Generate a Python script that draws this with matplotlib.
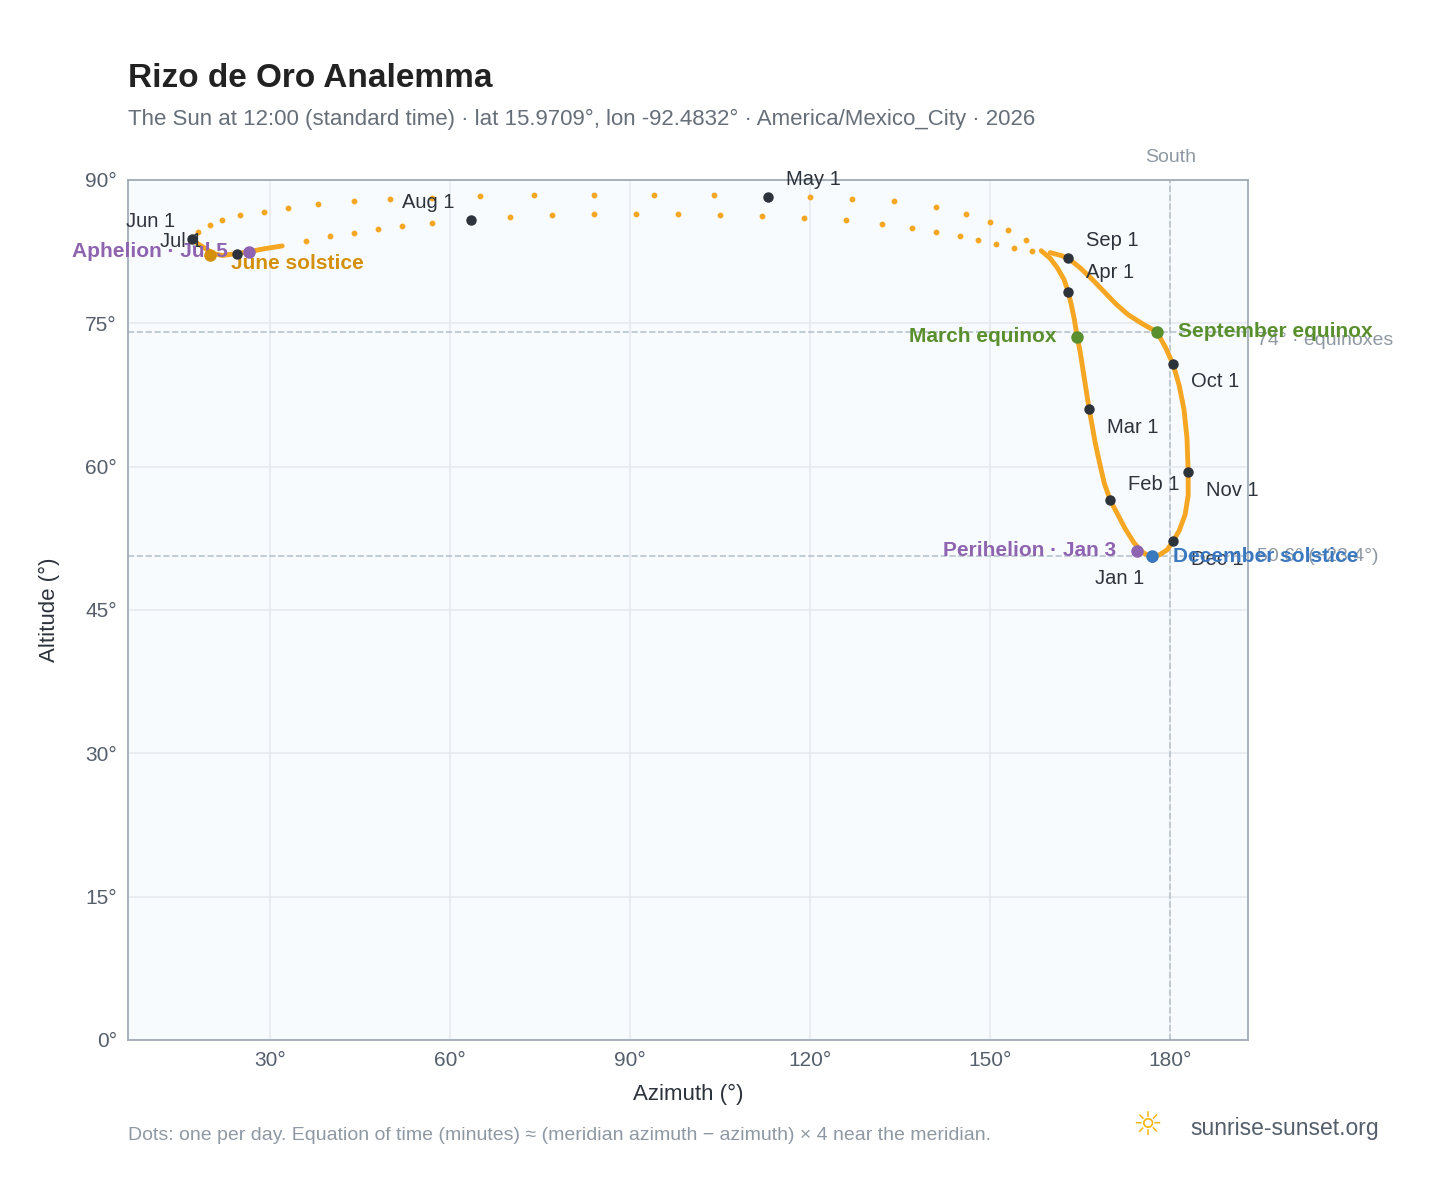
import matplotlib.pyplot as plt

plt.rcParams["font.family"] = ["Liberation Sans", "DejaVu Sans"]

# loop south of zenith, Jan 1 -> mid Apr (dense)
loop_a_az = [177, 175.5, 174, 172.5, 171, 170, 169, 168.2, 167.5, 167, 166.5, 166, 165.5, 165, 164.5, 164, 163.5, 163, 162.3, 161.2, 160, 158.5]
loop_a_alt = [50.5, 51, 52, 53.5, 55.3, 56.5, 58.3, 60.5, 62.5, 64.3, 66, 68, 70, 72, 73.6, 75.5, 77, 78.3, 79.6, 80.8, 81.8, 82.6]
# upper arc, Apr -> Jun (sparse dots)
top_az = [156, 153, 150, 146, 141, 134, 127, 120, 113, 104, 94, 84, 74, 65, 57, 50, 44, 38, 33, 29, 25, 22, 20, 18]
top_alt = [83.7, 84.8, 85.6, 86.4, 87.2, 87.8, 88.0, 88.2, 88.2, 88.4, 88.4, 88.4, 88.4, 88.3, 88.1, 88.0, 87.8, 87.5, 87.1, 86.7, 86.3, 85.8, 85.3, 84.6]
# June/July turn (dense)
june_az = [17, 18, 19.5, 20.5, 22, 24.5, 26.5, 29, 32]
june_alt = [83.8, 83.3, 82.7, 82.3, 82.1, 82.3, 82.5, 82.8, 83.1]
# lower arc, Jul -> Aug (sparse dots)
low_az = [36, 40, 44, 48, 52, 57, 63.5, 70, 77, 84, 91, 98, 105, 112, 119, 126, 132, 137, 141, 145, 148, 151, 154, 157]
low_alt = [83.6, 84.1, 84.5, 84.9, 85.2, 85.5, 85.8, 86.1, 86.3, 86.4, 86.4, 86.4, 86.3, 86.2, 86.0, 85.8, 85.4, 85.0, 84.6, 84.1, 83.7, 83.3, 82.9, 82.6]
# Sep -> Jan (dense)
loop_b_az = [160, 161.8, 163, 165, 167, 169, 171, 173, 175.5, 177.8, 179.2, 180.5, 181.5, 182.3, 182.8, 183, 183, 182.5, 181.5, 180.5, 179.5, 178.3, 177]
loop_b_alt = [82.4, 82.1, 81.8, 80.8, 79.6, 78.3, 77.0, 75.9, 74.9, 74.1, 72.5, 70.7, 68.5, 66, 63, 59.4, 57, 55, 53.3, 52.2, 51.3, 50.8, 50.5]

months = ["Jan 1", "Feb 1", "Mar 1", "Apr 1", "May 1", "Jun 1", "Jul 1", "Aug 1", "Sep 1", "Oct 1", "Nov 1", "Dec 1"]
month_az = [177, 170, 166.5, 163, 113, 17, 24.5, 63.5, 163, 180.5, 183, 180.5]
month_alt = [50.5, 56.5, 66, 78.3, 88.2, 83.8, 82.3, 85.8, 81.8, 70.7, 59.4, 52.2]
month_off = [(-6, -15), (13, 11), (13, -13), (13, 14), (13, 13), (-12, 13), (-25, 9), (-12, 13), (13, 13), (13, -12), (13, -13), (13, -13)]

events = ["March equinox", "September equinox", "December solstice", "June solstice", "Aphelion · Jul 5", "Perihelion · Jan 3"]
event_az = [164.5, 177.8, 177, 20, 26.5, 174.5]
event_alt = [73.6, 74.1, 50.6, 82.1, 82.5, 51.2]
event_col = ["#5a8f2e", "#5a8f2e", "#3a78c0", "#d4900a", "#8e63b0", "#8e63b0"]
event_ha = ["right", "left", "left", "left", "right", "right"]
event_dx = [-15, 15, 15, 15, -15, -15]

orange = "#f5a623"
fig = plt.figure(figsize=(14.48, 11.88), dpi=100)
ax = fig.add_axes([0.0884, 0.1246, 0.7736, 0.7239])
ax.set_facecolor("#f8fbfe")
ax.set_xlim(6.3, 193)
ax.set_ylim(0, 90)
ax.set_xticks([30, 60, 90, 120, 150, 180])
ax.set_xticklabels([f"{v}°" for v in [30, 60, 90, 120, 150, 180]])
ax.set_yticks(range(0, 91, 15))
ax.set_yticklabels([f"{v}°" for v in range(0, 91, 15)])
ax.grid(color="#e6eaef", lw=1.2)
ax.set_axisbelow(True)
for s in ax.spines.values():
    s.set_color("#9aa5b1")
    s.set_linewidth(1.2)
ax.tick_params(colors="#555f6b", labelsize=15, length=0, pad=8)

ax.axvline(180, color="#b8c3cc", ls="--", lw=1.2)
ax.axhline(74.1, color="#b8c3cc", ls="--", lw=1.2)
ax.axhline(50.6, color="#b8c3cc", ls="--", lw=1.2)
ax.text(180, 91.5, "South", ha="center", va="bottom", color="#8f99a3", fontsize=14)
ax.text(194.5, 74.1, "74° · equinoxes", ha="left", va="top", color="#8f99a3", fontsize=14, clip_on=False)
ax.text(194.5, 50.6, "50.6° (−23.4°)", ha="left", va="center", color="#8f99a3", fontsize=14, clip_on=False)

for xs, ys in [(loop_a_az, loop_a_alt), (june_az, june_alt), (loop_b_az, loop_b_alt)]:
    ax.plot(xs, ys, color=orange, lw=3.5, solid_capstyle="round")
ax.plot(top_az, top_alt, "o", color=orange, ms=3.2, ls="none")
ax.plot(low_az, low_alt, "o", color=orange, ms=3.2, ls="none")

ax.plot(month_az, month_alt, "o", color="#2d333b", ms=6.5, ls="none", zorder=5)
for m, x, y, off in zip(months, month_az, month_alt, month_off):
    ax.annotate(m, (x, y), xytext=off, textcoords="offset points", fontsize=14.5,
                color="#2d333b", ha="left" if off[0] > 0 else "right", va="center")

for e, x, y, c, ha, dx in zip(events, event_az, event_alt, event_col, event_ha, event_dx):
    ax.plot(x, y, "o", color=c, ms=8, zorder=6)
    dy = -6 if "June" in e else 0
    ax.annotate(e, (x, y), xytext=(dx, dy), textcoords="offset points", fontsize=15,
                fontweight="bold", color=c, ha=ha, va="center")

ax.set_xlabel("Azimuth (°)", fontsize=16, color="#2d333b", labelpad=10)
ax.set_ylabel("Altitude (°)", fontsize=16, color="#2d333b", labelpad=18)

fig.text(0.0884, 0.927, "Rizo de Oro Analemma", fontsize=24, fontweight="bold", color="#222222")
fig.text(0.0884, 0.895, "The Sun at 12:00 (standard time) · lat 15.9709°, lon -92.4832° · America/Mexico_City · 2026",
         fontsize=16, color="#666e78")
fig.text(0.0884, 0.040, "Dots: one per day. Equation of time (minutes) ≈ (meridian azimuth − azimuth) × 4 near the meridian.",
         fontsize=14, color="#8f99a3")
fig.text(0.952, 0.045, "sunrise-sunset.org", fontsize=16.5, color="#555f6b", ha="right")
fig.text(0.792, 0.045, "☼", fontsize=24, color="#f5b400", ha="center", family="DejaVu Sans")

fig.savefig("out.png")
